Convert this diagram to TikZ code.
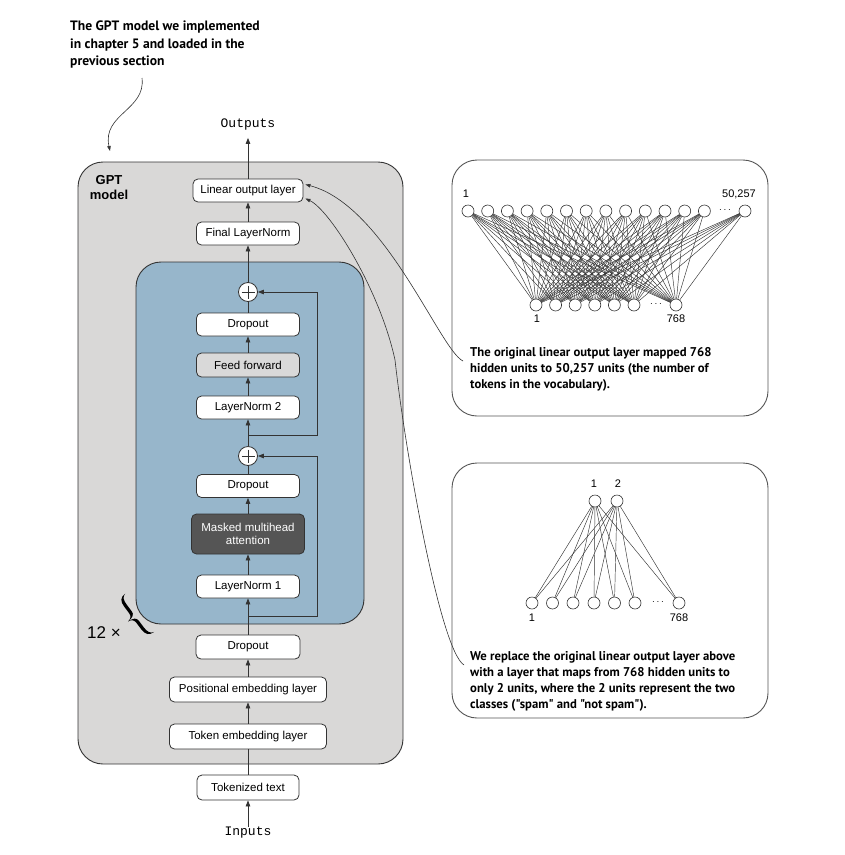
\documentclass[tikz,border=0pt]{standalone}
\usepackage{fontspec}
\setmainfont{Liberation Sans}
\setmonofont{Liberation Mono}
\newfontfamily\notefont{PT Sans}
\usetikzlibrary{arrows.meta,calc}
\definecolor{frame}{HTML}{333333}
\definecolor{modelgray}{HTML}{D9D8D7}
\definecolor{blockblue}{HTML}{97B6CB}
\definecolor{ffgray}{HTML}{D9D9D9}
\definecolor{attn}{HTML}{555555}
\definecolor{panelline}{HTML}{555555}

\begin{document}
\begin{tikzpicture}[x=1pt,y=-1pt,
  layer/.style={draw=frame, line width=0.8pt, fill=white, rounded corners=5pt,
    minimum width=103pt, minimum height=23pt, inner sep=0pt,
    font=\fontsize{11.5}{13.5}\selectfont},
  flow/.style={draw=frame, line width=0.8pt, -{Triangle[length=6pt,width=4.5pt]}},
  plain/.style={draw=frame, line width=0.8pt},
  sum/.style={circle, draw=frame, fill=white, line width=0.8pt, minimum size=19pt, inner sep=0pt},
  unit/.style={circle, draw=frame, fill=white, line width=0.6pt, minimum size=12pt, inner sep=0pt},
  wire/.style={draw=frame, line width=0.45pt},
  note/.style={font=\notefont\bfseries\fontsize{12.7}{16.2}\selectfont, align=left,
    anchor=north west, inner sep=0pt},
  panel/.style={draw=panelline, line width=0.9pt, fill=white, rounded corners=25pt},
  num/.style={font=\fontsize{11}{13}\selectfont, inner sep=0pt},
  callout/.style={draw=frame, line width=0.6pt},
  io/.style={font=\ttfamily\fontsize{13}{15}\selectfont, inner sep=0pt},
]
\useasboundingbox (0,0) rectangle (845,855);

% ---------- GPT model container ----------
\path[draw=frame, line width=0.9pt, fill=modelgray, rounded corners=25pt]
  (78,162) rectangle (403,764);
\node[font=\bfseries\fontsize{13}{15}\selectfont, align=center, inner sep=0pt]
  (gptlbl) at (109,188) {GPT\\model};

% transformer block
\path[draw=frame, line width=0.9pt, fill=blockblue, rounded corners=25pt]
  (136,262) rectangle (364,624);

% ---------- layers ----------
\node[layer, minimum width=110pt] (lin) at (248,190.5) {Linear output layer};
\node[layer] (fln) at (248,233.5) {Final LayerNorm};
\node[sum] (p1) at (248,292) {};
\node[layer] (do1) at (248,324.5) {Dropout};
\node[layer, fill=ffgray, minimum height=24pt] (ff) at (248,365) {Feed forward};
\node[layer] (ln2) at (248,407.5) {LayerNorm 2};
\node[sum] (p2) at (248,456) {};
\node[layer] (do2) at (248,486) {Dropout};
\node[layer, fill=attn, text=white, minimum width=113pt, minimum height=40pt,
  align=center] (mha) at (248,534) {Masked multihead\\attention};
\node[layer] (ln1) at (248,586.5) {LayerNorm 1};
\node[layer, minimum width=104pt, minimum height=24pt] (do3) at (248,647) {Dropout};
\node[layer, minimum width=157pt, minimum height=25pt] (pos) at (248,689.5) {Positional embedding layer};
\node[layer, minimum width=157pt, minimum height=25pt] (tok) at (248,736.5) {Token embedding layer};
\node[layer, minimum width=102pt, minimum height=25pt] (tt) at (248,787.5) {Tokenized text};

\node[io] (inputs) at (248,833) {Inputs};
\node[io] (outputs) at (248,124) {Outputs};

% plus signs
\foreach \p in {p1,p2}{
  \draw[plain] ([yshift=6.5pt]\p.center) -- ([yshift=-6.5pt]\p.center)
               ([xshift=-6.5pt]\p.center) -- ([xshift=6.5pt]\p.center);
}

% ---------- main flow ----------
\draw[flow] (inputs) -- (tt);
\draw[plain] (tt) -- (tok);
\draw[flow] (tok) -- (pos);
\draw[flow] (pos) -- (do3);
\draw[flow] (do3) -- (ln1);
\draw[flow] (ln1) -- (mha);
\draw[flow] (mha) -- (do2);
\draw[plain] (do2) -- (p2);
\draw[flow] (p2) -- (ln2);
\draw[flow] (ln2) -- (ff);
\draw[flow] (ff) -- (do1);
\draw[plain] (do1) -- (p1);
\draw[flow] (p1) -- (fln);
\draw[flow] (fln) -- (lin);
\draw[flow] (lin) -- ([yshift=-8pt]outputs.south);

% residual shortcuts
\coordinate (r2) at (248,616);
\coordinate (r1) at (248,435);
\draw[flow] (r2) -- ++(69,0) |- (p2);
\draw[flow] (r1) -- ++(69,0) |- (p1);

% repetition marker: count and a tilted calligraphic curly brace
\node[font=\fontsize{17}{19}\selectfont, inner sep=0pt] (rep) at (104,633) {12 ×};
\begin{scope}[shift={(134,617)}, rotate=37]
  \fill[black] (7,-24) .. controls (1,-24) and (-1.6,-21) .. (-1.6,-14) -- (-1.6,-6)
    .. controls (-1.6,-2) and (-4,-0.5) .. (-7.5,0)
    .. controls (-4,0.5) and (-1.6,2) .. (-1.6,6) -- (-1.6,14)
    .. controls (-1.6,21) and (1,24) .. (7,24)
    .. controls (3,23) and (1.6,20) .. (1.6,14) -- (1.6,6)
    .. controls (1.6,2) and (-1,0.4) .. (-7.5,0)
    .. controls (-1,-0.4) and (1.6,-2) .. (1.6,-6) -- (1.6,-14)
    .. controls (1.6,-20) and (3,-23) .. (7,-24) -- cycle;
\end{scope}

% ---------- annotation at top ----------
\node[note, font=\notefont\bfseries\fontsize{13.6}{17.5}\selectfont] (topnote) at (70,21)
  {The GPT model we implemented\\in chapter 5 and loaded in the\\previous section};
\coordinate (topstart) at (142,78);
\draw[callout, -{Triangle[length=5pt,width=3.5pt]}] (topstart)
  .. controls (146,110) and (102,114) .. (110,151);

% ---------- panel: original output layer ----------
\path[panel] (452,160) rectangle (768,416);
\foreach \i in {0,...,12}{
  \node[unit] (t\i) at ({468+19.7*\i},211) {};
}
\node[unit] (t13) at (745,211) {};
\node[inner sep=0pt] (tdots) at (725,210) {$\cdots$};
\foreach \j in {0,...,5}{
  \node[unit] (b\j) at ({536+19.6*\j},305) {};
}
\node[unit] (b6) at (676,305) {};
\node[inner sep=0pt] (bdots) at (656,304) {$\cdots$};
\foreach \i in {0,...,13}{
  \foreach \j in {0,...,6}{
    \draw[wire] (t\i) -- (b\j);
  }
}
\node[num] (l1a) at (466,194) {1};
\node[num] (l1b) at (739,194) {50,257};
\node[num] (l1c) at (537,319) {1};
\node[num] (l1d) at (676,319) {768};
\node[note] (note1) at (470,347)
  {The original linear output layer mapped 768\\hidden units to 50,257 units (the number of\\tokens in the vocabulary).};

% ---------- panel: classification head ----------
\path[panel] (452,463) rectangle (768,718);
\node[unit] (u1) at (595,501) {};
\node[unit] (u2) at (617,501) {};
\node[num] (l2a) at (594,484) {1};
\node[num] (l2b) at (618,484) {2};
\foreach \j/\x in {0/532,1/552.5,2/573,3/594,4/614.5,5/635}{
  \node[unit] (v\j) at (\x,603) {};
}
\node[unit] (v6) at (679,603) {};
\node[inner sep=0pt] (vdots) at (658,602) {$\cdots$};
\foreach \j in {0,...,6}{
  \draw[wire] (u1) -- (v\j);
  \draw[wire] (u2) -- (v\j);
}
\node[num] (l2c) at (532,618) {1};
\node[num] (l2d) at (679,618) {768};
\node[note] (note2) at (470,651)
  {We replace the original linear output layer above\\with a layer that maps from 768 hidden units to\\only 2 units, where the 2 units represent the two\\classes ("spam" and "not spam").};

% ---------- callouts to the output layer ----------
\coordinate (c1) at (463,361);
\coordinate (c2) at (464,665);
\draw[callout, -{Triangle[length=5pt,width=3.5pt]}] (c1)
  .. controls (440,350) and (385,205) .. ([yshift=6pt,xshift=2pt]lin.east);
\draw[callout, -{Triangle[length=5pt,width=3.5pt]}] (c2)
  .. controls (440,650) and (405,450) .. (395,360)
  .. controls (380,290) and (330,210) .. ([yshift=-8pt,xshift=2pt]lin.east);
\end{tikzpicture}
\end{document}
